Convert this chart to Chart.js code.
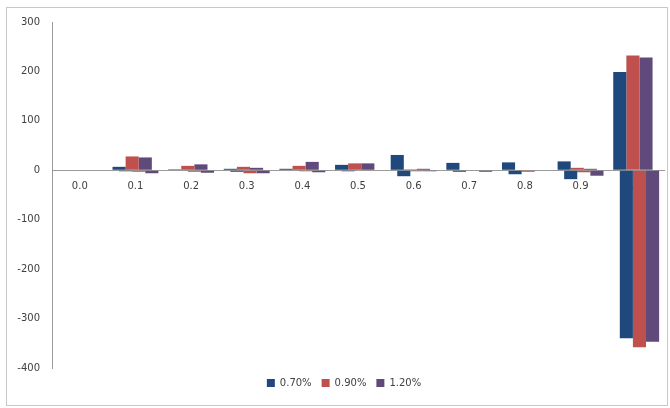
<!DOCTYPE html>
<html>
<head>
<meta charset="utf-8">
<script src="https://cdn.jsdelivr.net/npm/chart.js@4"></script>
<style>
  html, body { margin: 0; padding: 0; background: #fff; }
  #wrap { width: 670px; height: 408px; position: relative; }
</style>
</head>
<body>
<div id="wrap"><canvas id="chart"></canvas></div>
<script>
// categories along the x axis
const categories = ['0.0', '0.1', '0.2', '0.3', '0.4', '0.5', '0.6', '0.7', '0.8', '0.9', '1.0'];

// each series has an upper (positive) part and a lower (negative) part
const up070 = [0, 7, 2, 3, 3, 11, 31, 15, 16, 18, 199];
const down070 = [0, -2, -1, -3, -1, -2, -12, -3, -8, -18, -340];
const up090 = [0, 28, 9, 7, 9, 14, 2, 0, 0, 5, 232];
const down090 = [0, -3, -3, -6, -2, -1, -2, 0, -3, -4, -358];
const up120 = [0, 26, 12, 5, 17, 14, 3, 0, 0, 3, 228];
const down120 = [0, -6, -5, -6, -4, -1, -2, -3, -1, -11, -347];

const seriesNames = ['0.70%', '0.90%', '1.20%'];
const yTicks = [300, 200, 100, 0, -100, -200, -300, -400];

const colors = ['#1F497D', '#C0504D', '#604A7B'];
const font = { family: 'DejaVu Sans', size: 10 };

// outer frame around the chart, legend nudged a little to the right
const frame = {
  id: 'frame',
  afterLayout(chart) {
    chart.legend.left += 12;
    chart.legend.right += 12;
  },
  beforeDraw(chart) {
    const ctx = chart.ctx;
    ctx.save();
    ctx.strokeStyle = '#c8c8c8';
    ctx.lineWidth = 1;
    ctx.strokeRect(6.5, 7.5, 661, 398);
    ctx.restore();
  }
};

const parts = [up070, down070, up090, down090, up120, down120];
const datasets = parts.map((data, i) => ({
  label: seriesNames[Math.floor(i / 2)],
  data: data,
  backgroundColor: colors[Math.floor(i / 2)],
  borderWidth: 0
}));

new Chart(document.getElementById('chart'), {
  type: 'bar',
  data: { labels: categories, datasets: datasets },
  options: {
    responsive: true,
    maintainAspectRatio: false,
    animation: false,
    // every bar is two slots wide, so neighbouring series overlap by half
    categoryPercentage: 0.707,
    barPercentage: 2,
    layout: { padding: { left: 0, right: 6, top: 22, bottom: 10 } },
    plugins: {
      tooltip: { enabled: false },
      legend: {
        position: 'bottom',
        labels: {
          boxWidth: 8,
          boxHeight: 8,
          padding: 10,
          color: '#404040',
          font: font,
          filter: item => item.datasetIndex % 2 === 0
        }
      }
    },
    scales: {
      x: {
        position: { y: 0 },
        z: 1,
        grid: { display: false, drawTicks: false },
        border: { display: true, color: '#9a9a9a' },
        ticks: { color: '#404040', font: font, padding: 10, maxRotation: 0 },
        afterFit(s) { s.height = 0; }
      },
      y: {
        min: -400,
        max: 300,
        afterBuildTicks(s) { s.ticks = yTicks.map(v => ({ value: v })); },
        grid: { drawOnChartArea: false, drawTicks: false },
        border: { display: true, color: '#9a9a9a' },
        ticks: { color: '#404040', font: font, padding: 12 },
        afterFit(s) { s.width = 52; }
      }
    }
  },
  plugins: [frame]
});
</script>
</body>
</html>
